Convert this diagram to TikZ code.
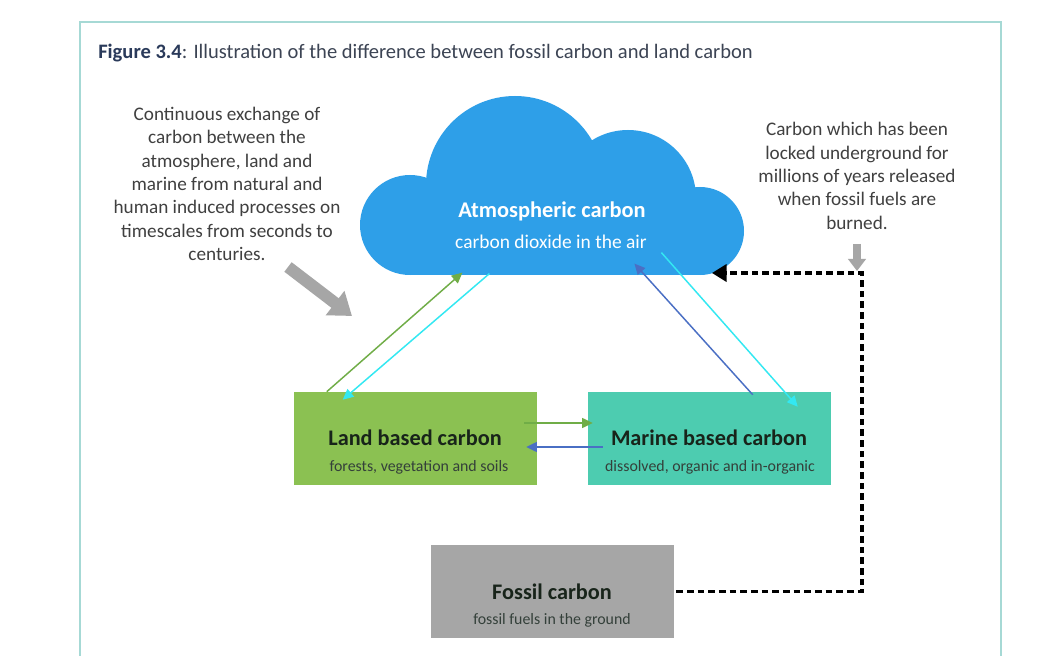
\documentclass[tikz,border=0pt]{standalone}
\usepackage{fontspec}
\setmainfont{Carlito}
\usetikzlibrary{arrows.meta,calc}
\definecolor{framec}{HTML}{A6D9D5}
\definecolor{cloudc}{HTML}{2E9FE8}
\definecolor{landc}{HTML}{8BC152}
\definecolor{marinec}{HTML}{4DCCB0}
\definecolor{fossilc}{HTML}{A6A6A6}
\definecolor{greenar}{HTML}{70AD47}
\definecolor{cyanar}{HTML}{33E8F2}
\definecolor{bluear}{HTML}{4A6FC4}
\definecolor{titleb}{HTML}{2A3A5A}
\definecolor{titler}{HTML}{3C4454}
\definecolor{notec}{HTML}{404040}
\definecolor{boxt}{HTML}{18241A}
\definecolor{boxs}{HTML}{34403A}
\begin{document}
\begin{tikzpicture}[x=0.75pt,y=-0.75pt,
  box/.style={minimum width=182.25pt,minimum height=69.75pt,inner sep=0pt},
  btitle/.style={font=\bfseries\fontsize{16.7}{19}\selectfont,text=boxt,inner sep=0pt},
  bsub/.style={font=\fontsize{11.9}{14}\selectfont,text=boxs,inner sep=0pt},
  note/.style={align=center,text=notec,font=\fontsize{14.4}{17.5}\selectfont,inner sep=0pt},
  flow/.style={line width=1.1pt,-{Triangle[length=8pt,width=7.5pt]}},
  garrow/.style={fossilc,line width=9pt,-{Triangle[length=16pt,width=22pt]}},
  sgarrow/.style={fossilc,line width=6pt,-{Triangle[length=9pt,width=13pt]}},
  fossline/.style={black,line width=2.3pt,dash pattern=on 5pt off 3pt,-{Triangle[length=11pt,width=13pt]}}]
\useasboundingbox (0,0) rectangle (1050,656);
\fill[white] (0,0) rectangle (1050,656);
\draw[framec,line width=1.6pt] (80,700) -- (80,22) -- (1001,22) -- (1001,700);

% title
\node[anchor=west,inner sep=0pt,font=\fontsize{15.4}{18}\selectfont,text=titler] (title) at (98,53)
  {\textcolor{titleb}{\bfseries Figure 3.4}: Illustration of the difference between fossil carbon and land carbon};

% cloud
\fill[cloudc] (410,200) rectangle (700,275);
\fill[cloudc] (410,225) circle[radius=50];
\fill[cloudc] (515,185) circle[radius=89];
\fill[cloudc] (628,198) circle[radius=68];
\fill[cloudc] (700,231) circle[radius=44];
\node[minimum width=290pt,minimum height=137pt,inner sep=0pt] (cloud) at (551,184) {};
\node[font=\bfseries\fontsize{16.8}{19}\selectfont,text=white,inner sep=0pt] (atm) at (552,211) {Atmospheric carbon};
\node[font=\fontsize{14.6}{17}\selectfont,text=white,inner sep=0pt] (atmsub) at (551,242) {carbon dioxide in the air};

% notes
\node[note] (lnote) at (227,184) {Continuous exchange of\\carbon between the\\atmosphere, land and\\marine from natural and\\human induced processes on\\timescales from seconds to\\centuries.};
\node[note] (rnote) at (857,176) {Carbon which has been\\locked underground for\\millions of years released\\when fossil fuels are\\burned.};

% boxes
\node[box,fill=landc] (land) at (415.5,438.5) {};
\node[box,fill=marinec] (marine) at (709.5,438.5) {};
\node[box,fill=fossilc] (fossil) at (552.5,591.5) {};
\node[btitle] (landt) at (415,438) {Land based carbon};
\node[bsub] (lands) at (419,467) {forests, vegetation and soils};
\node[btitle] (marinet) at (709,438) {Marine based carbon};
\node[bsub] (marines) at (710,467) {dissolved, organic and in-organic};
\node[btitle] (fossilt) at (552,592) {Fossil carbon};
\node[bsub] (fossils) at (552,620) {fossil fuels in the ground};

% gray pointer arrows
\coordinate (ga1) at (288,267);
\coordinate (ga2) at (352,316);
\draw[garrow] (ga1) -- (ga2);
\coordinate (gb1) at (857,244);
\coordinate (gb2) at (857,271);
\draw[sgarrow] (gb1) -- (gb2);

% exchange arrows
\draw[flow,greenar] ($(land.north west)+(33,0)$) -- ($(cloud.south west)+(105,-3)$);
\draw[flow,cyanar] ($(cloud.south west)+(132,-2)$) -- ($(land.north west)+(49,8)$);
\draw[flow,bluear] ($(marine.north west)+(165,3)$) -- ($(cloud.south west)+(277,-12)$);
\draw[flow,cyanar] ($(cloud.south west)+(304,-23)$) -- ($(marine.north west)+(210,15)$);
\draw[flow,greenar] ($(land.east)+(-13,-15.5)$) -- ($(marine.west)+(5,-15.5)$);
\draw[flow,bluear] ($(marine.west)+(15,8.5)$) -- ($(land.east)+(-11,8.5)$);

% fossil release
\coordinate (dc) at (862,273);
\coordinate (dtip) at (712,273);
\draw[fossline] ($(fossil.east)+(2,0)$) -| (dc) -- (dtip);
\end{tikzpicture}
\end{document}
